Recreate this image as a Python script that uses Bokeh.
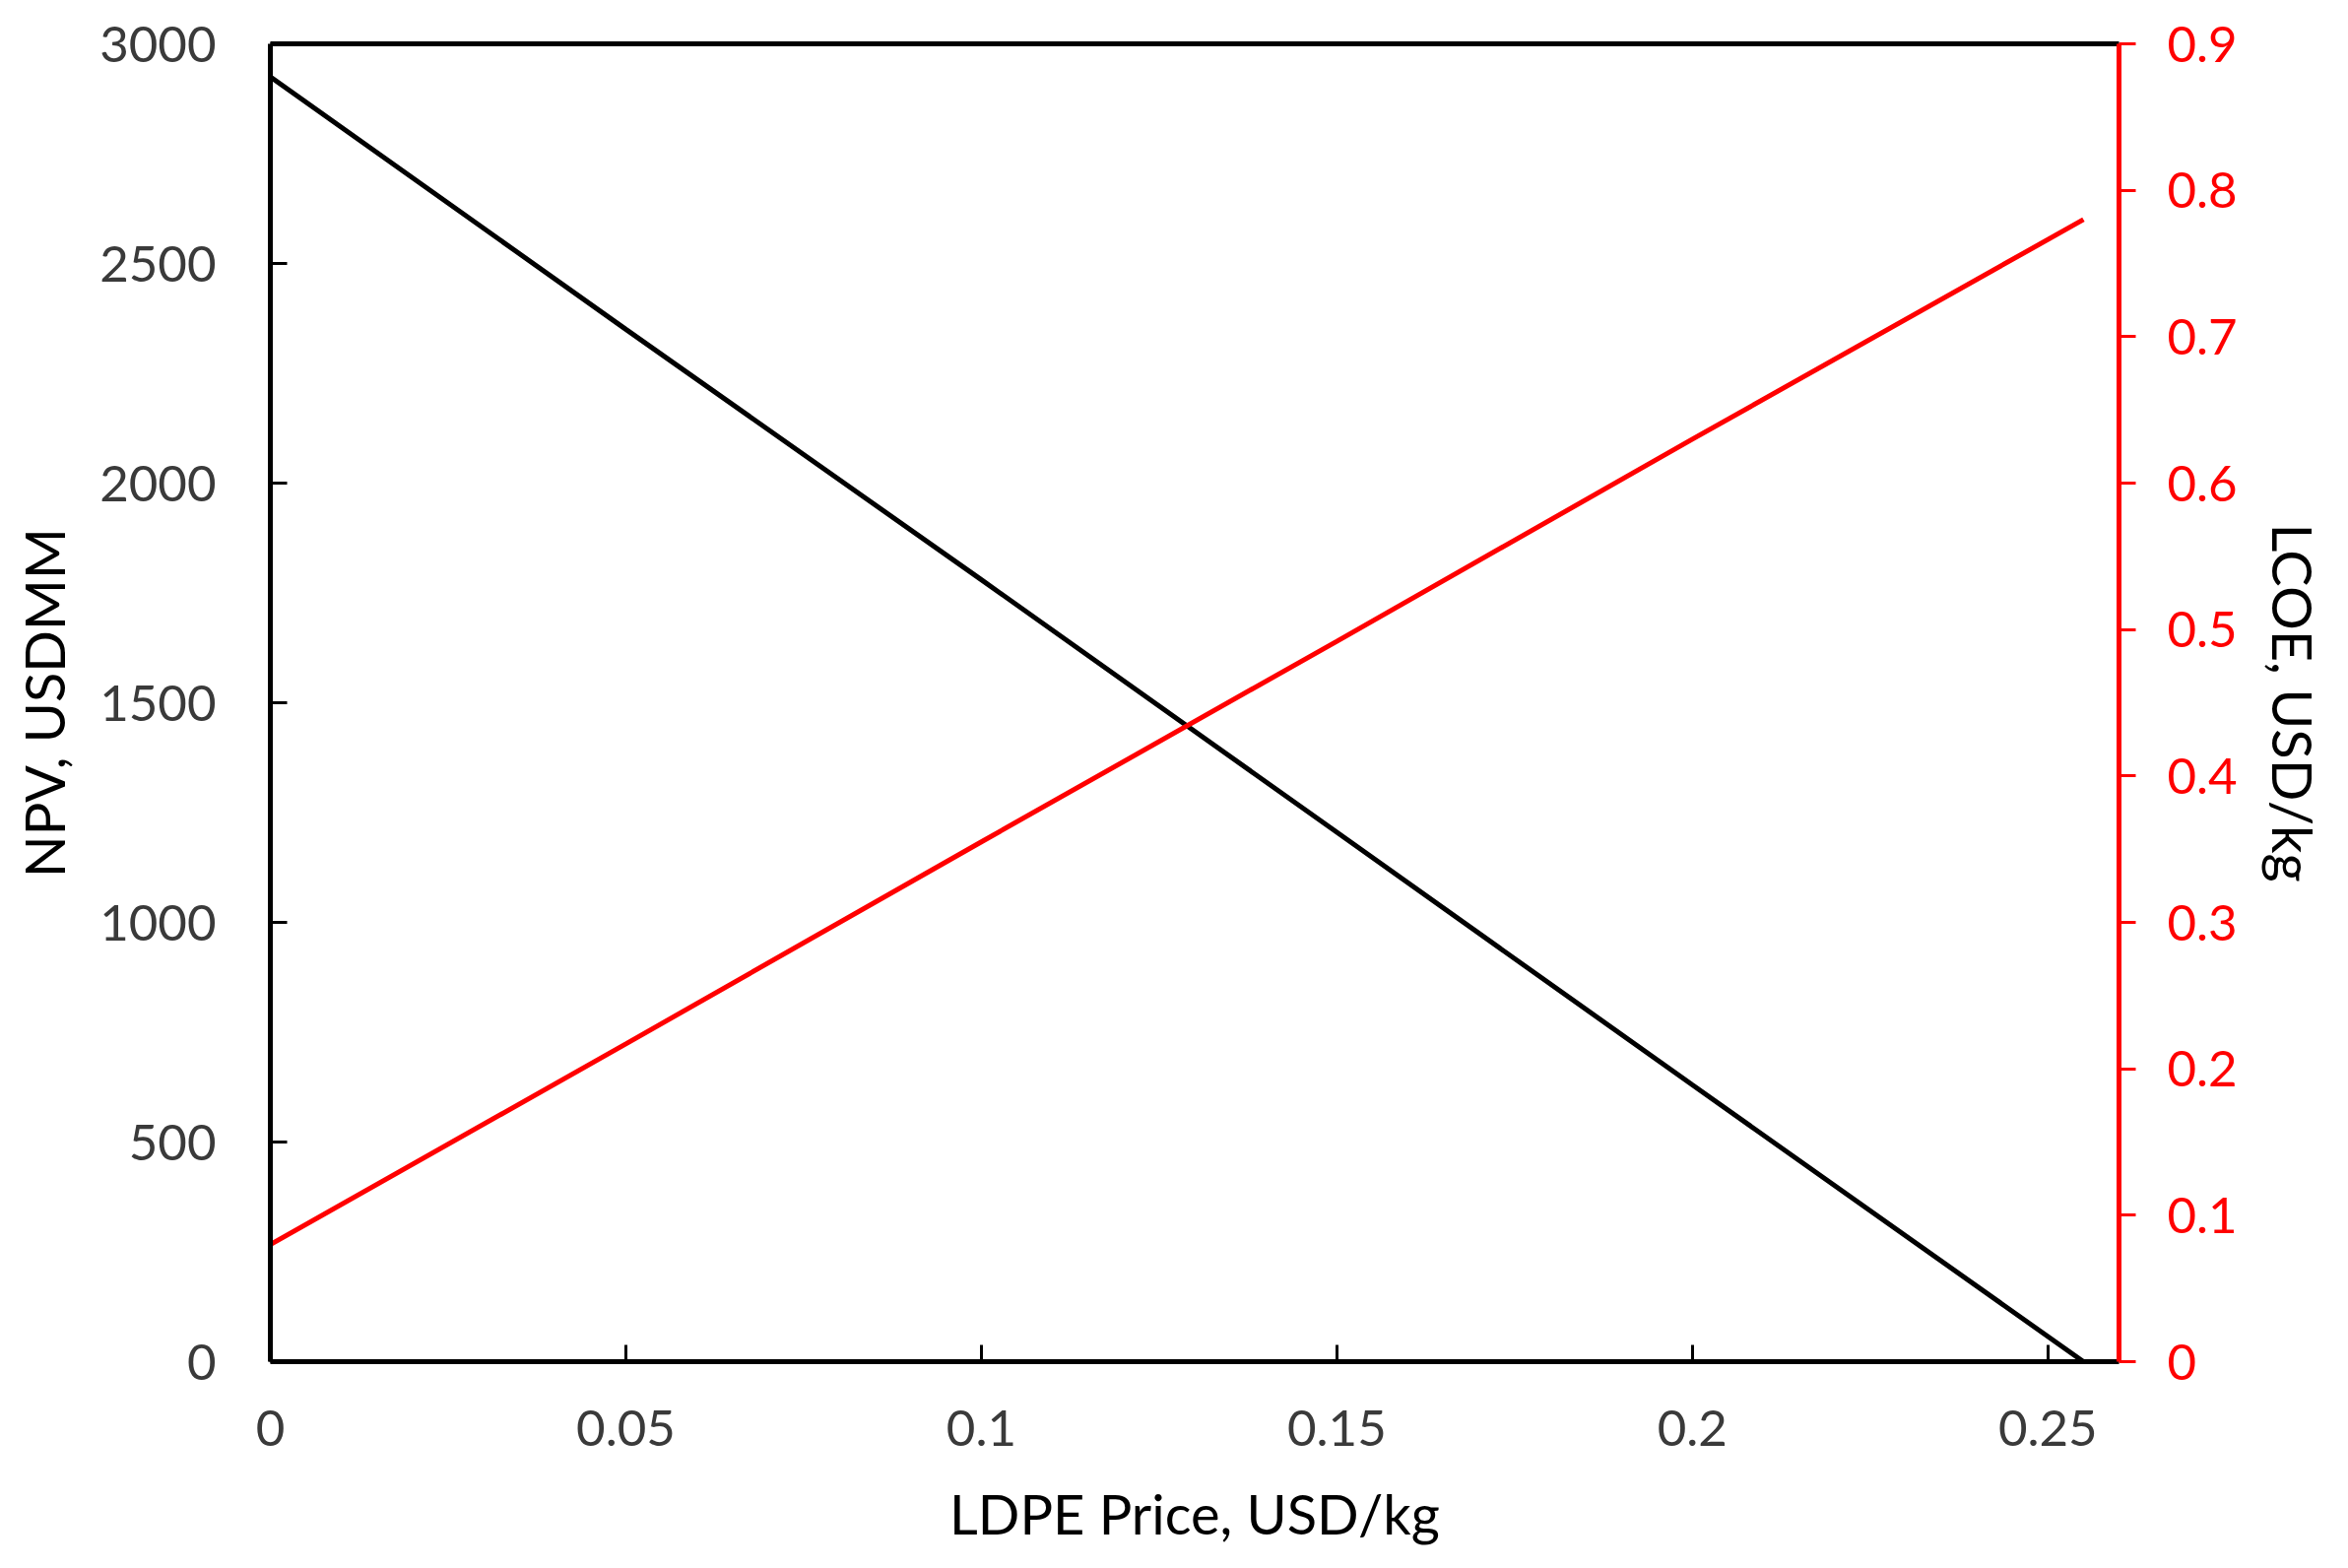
from bokeh.plotting import figure
from bokeh.models import Range1d, LinearAxis, FixedTicker, CustomJSTickFormatter
from bokeh.embed import file_html
from bokeh.resources import INLINE

# ---- data ----
ldpe_price = [0.0, 0.05, 0.10, 0.15, 0.20, 0.255]
npv_usdmm = [2925, 2350, 1780, 1205, 630, 0]
lcoe_usd_kg = [0.080, 0.217, 0.355, 0.492, 0.630, 0.780]

x_ticks = [0, 0.05, 0.1, 0.15, 0.2, 0.25]
npv_ticks = [0, 500, 1000, 1500, 2000, 2500, 3000]
lcoe_ticks = [0, 0.1, 0.2, 0.3, 0.4, 0.5, 0.6, 0.7, 0.8, 0.9]

FONT = "Lato"
TICK_SIZE = "51px"
TITLE_SIZE = "56px"
TICK_COLOR = "#3a3a3a"
RED = "#ff0000"

p = figure(width=2368, height=1576, output_backend="svg", toolbar_location=None,
           x_range=Range1d(0, 0.26), y_range=Range1d(0, 3000),
           min_border_left=274, min_border_right=217, min_border_top=44, min_border_bottom=194)
p.extra_y_ranges = {"lcoe": Range1d(0, 0.9)}
p.xgrid.visible = False
p.ygrid.visible = False
p.outline_line_color = None
p.background_fill_color = "white"
p.border_fill_color = "white"

fmt = CustomJSTickFormatter(code="return String(Math.round(tick*1000)/1000);")

def style(ax, color, title_color, tick_in, tick_out, standoff, label_standoff):
    ax.axis_line_color = color
    ax.axis_line_width = 5
    ax.major_tick_line_color = color
    ax.major_tick_line_width = 3
    ax.major_tick_in = tick_in
    ax.major_tick_out = tick_out
    ax.minor_tick_line_color = None
    ax.major_label_text_font = FONT
    ax.major_label_text_font_size = TICK_SIZE
    ax.major_label_text_color = color if color == RED else TICK_COLOR
    ax.major_label_standoff = standoff
    ax.axis_label_text_font = FONT
    ax.axis_label_text_font_size = TITLE_SIZE
    ax.axis_label_text_font_style = "normal"
    ax.axis_label_text_color = title_color
    ax.axis_label_standoff = label_standoff

xa = p.xaxis[0]
xa.ticker = FixedTicker(ticks=x_ticks)
xa.formatter = fmt
xa.axis_label = "LDPE Price, USD/kg"
style(xa, "black", "black", 17, 0, 49, 32)

ya = p.yaxis[0]
ya.ticker = FixedTicker(ticks=npv_ticks)
ya.formatter = fmt
ya.axis_label = "NPV, USDMM"
style(ya, "black", "black", 17, 0, 55, 20)

ra = LinearAxis(y_range_name="lcoe", axis_label="LCOE, USD/kg")
ra.ticker = FixedTicker(ticks=lcoe_ticks)
ra.formatter = fmt
style(ra, RED, "black", 0, 17, 32, 20)
p.add_layout(ra, "right")

top = LinearAxis(ticker=FixedTicker(ticks=[]))
top.axis_line_color = "black"
top.axis_line_width = 5
top.major_label_text_font_size = "0px"
top.major_tick_line_color = None
top.minor_tick_line_color = None
top.major_label_standoff = 0
p.add_layout(top, "above")

p.line(ldpe_price, npv_usdmm, line_color="black", line_width=5)
p.line(ldpe_price, lcoe_usd_kg, line_color=RED, line_width=5, y_range_name="lcoe")

open("out.html", "w").write(file_html(p, INLINE))
